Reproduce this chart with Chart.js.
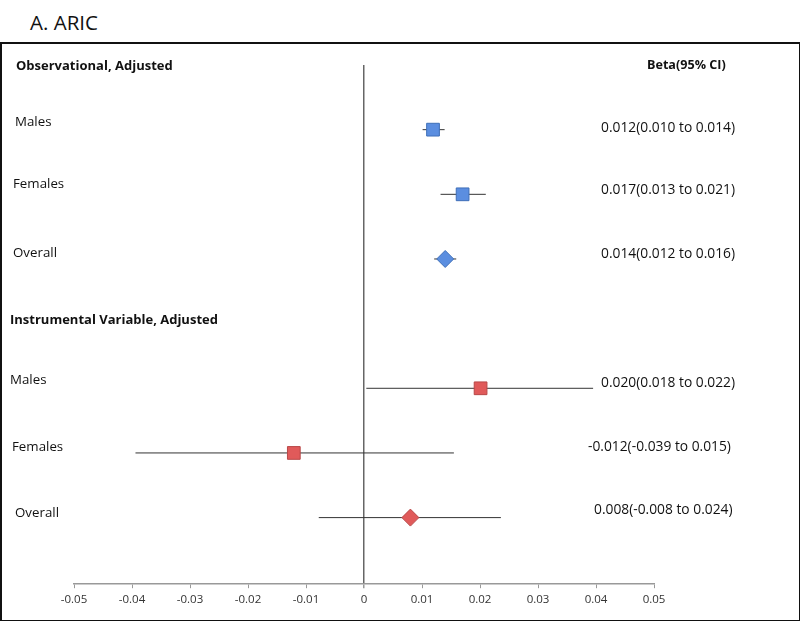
<!DOCTYPE html>
<html>
<head>
<meta charset="utf-8">
<script src="https://cdn.jsdelivr.net/npm/chart.js@4/dist/chart.umd.min.js"></script>
<style>
  html, body { margin: 0; padding: 0; background: #fff; }
  #wrap { position: relative; width: 800px; height: 621px; overflow: hidden; }
  #title { position: absolute; left: 30px; top: 8px; font-family: "Open Sans", sans-serif; font-size: 20.5px; color: #111; }
  #box { position: absolute; left: 0px; top: 42px; width: 797px; height: 576px; border: 2px solid #111; }
  #c { position: absolute; left: 0; top: 0; }
</style>
</head>
<body>
<div id="wrap">
  <div id="title">A. ARIC</div>
  <div id="box"></div>
  <canvas id="c" width="800" height="621"></canvas>
</div>
<script>
// ---- data ----
const groups = ["Observational, Adjusted", "Instrumental Variable, Adjusted"];
const groupRows = [0, 4];
const rowLabels = ["Males", "Females", "Overall", "Males", "Females", "Overall"];
const rows = [1, 2, 3, 5, 6, 7];
const estimates = [0.0119, 0.0170, 0.0140, 0.0201, -0.0121, 0.0080];
const ciLower = [0.0101, 0.0132, 0.0121, 0.0004, -0.0394, -0.0078];
const ciUpper = [0.0139, 0.0210, 0.0159, 0.0395, 0.0155, 0.0236];
const ciText = ["0.012(0.010 to 0.014)", "0.017(0.013 to 0.021)", "0.014(0.012 to 0.016)",
                "0.020(0.018 to 0.022)", "-0.012(-0.039 to 0.015)", "0.008(-0.008 to 0.024)"];
const ciHeader = "Beta(95% CI)";
const xTicks = [-0.05, -0.04, -0.03, -0.02, -0.01, 0, 0.01, 0.02, 0.03, 0.04, 0.05];
const obsIdx = [0, 1];   // squares, observational
const obsOverall = [2];  // diamond
const ivIdx = [3, 4];
const ivOverall = [5];

// text placement (layout only)
const labelX = [15, 13, 13, 10, 12, 15];
const labelDy = [-7, -10, -6, -8, -6, -4];
const groupX = [16, 10];
const groupDy = [1, -3];
const ciTextX = [601, 601, 601, 601, 588, 594];
const ciTextDy = [-2, -4, -5, -5, -6, -8];

function pts(idx) { return idx.map(i => ({x: estimates[i], y: rows[i]})); }
const ciData = [];
rows.forEach((r, i) => { ciData.push({x: ciLower[i], y: r}); ciData.push({x: ciUpper[i], y: r}); ciData.push({x: null, y: null}); });

const FONT = '"Open Sans", sans-serif';

const textPlugin = {
  id: 'forestText',
  afterDatasetsDraw(chart) {
    const ctx = chart.ctx;
    const y = chart.scales.y;
    ctx.save();
    ctx.fillStyle = '#111';
    ctx.textBaseline = 'middle';
    ctx.textAlign = 'left';
    ctx.font = 'bold 13px ' + FONT;
    groups.forEach((g, i) => ctx.fillText(g, groupX[i], y.getPixelForValue(groupRows[i]) + groupDy[i]));
    ctx.font = 'bold 12.6px ' + FONT;
    ctx.fillText(ciHeader, 647, y.getPixelForValue(groupRows[0]));
    ctx.font = '13.3px ' + FONT;
    rowLabels.forEach((l, i) => ctx.fillText(l, labelX[i], y.getPixelForValue(rows[i]) + labelDy[i]));
    ctx.font = '13.8px ' + FONT;
    ciText.forEach((t, i) => ctx.fillText(t, ciTextX[i], y.getPixelForValue(rows[i]) + ciTextDy[i]));
    ctx.restore();
  }
};

new Chart(document.getElementById('c'), {
  type: 'scatter',
  data: {
    datasets: [
      { data: ciData, showLine: true, spanGaps: false, borderColor: '#333', borderWidth: 1, pointRadius: 0, order: 5 },
      { data: pts(obsIdx), pointStyle: 'rect', pointRadius: 9, backgroundColor: '#5b8ee0', borderColor: '#3f6fb8', borderWidth: 1, order: 1 },
      { data: pts(obsOverall), pointStyle: 'rectRot', pointRadius: 8.5, backgroundColor: '#5b8ee0', borderColor: '#3f6fb8', borderWidth: 1, order: 1 },
      { data: pts(ivIdx), pointStyle: 'rect', pointRadius: 9, backgroundColor: '#e05a5a', borderColor: '#b84848', borderWidth: 1, order: 1 },
      { data: pts(ivOverall), pointStyle: 'rectRot', pointRadius: 8.5, backgroundColor: '#e05a5a', borderColor: '#b84848', borderWidth: 1, order: 1 }
    ]
  },
  options: {
    responsive: false,
    animation: false,
    events: [],
    layout: { padding: { left: 74, right: 146, top: 65, bottom: 9 } },
    plugins: { legend: { display: false }, tooltip: { enabled: false }, title: { display: false } },
    scales: {
      x: {
        type: 'linear', min: -0.05, max: 0.05,
        afterBuildTicks(s) { s.ticks = xTicks.map(v => ({value: v})); },
        ticks: { font: { family: FONT, size: 11.5 }, color: '#333', padding: 5, maxRotation: 0,
                 callback: v => String(Math.round(v * 100) / 100) },
        grid: { drawOnChartArea: true, tickLength: 4,
                color: c => (c.tick && Math.abs(c.tick.value) < 1e-9) ? '#666' : 'rgba(0,0,0,0)',
                tickColor: '#999', lineWidth: c => (c.tick && Math.abs(c.tick.value) < 1e-9) ? 1.5 : 1 },
        border: { display: true, color: '#999', width: 1.5 }
      },
      y: { type: 'linear', min: 0, max: 8.03, reverse: true, display: false }
    }
  },
  plugins: [textPlugin]
});
</script>
</body>
</html>
